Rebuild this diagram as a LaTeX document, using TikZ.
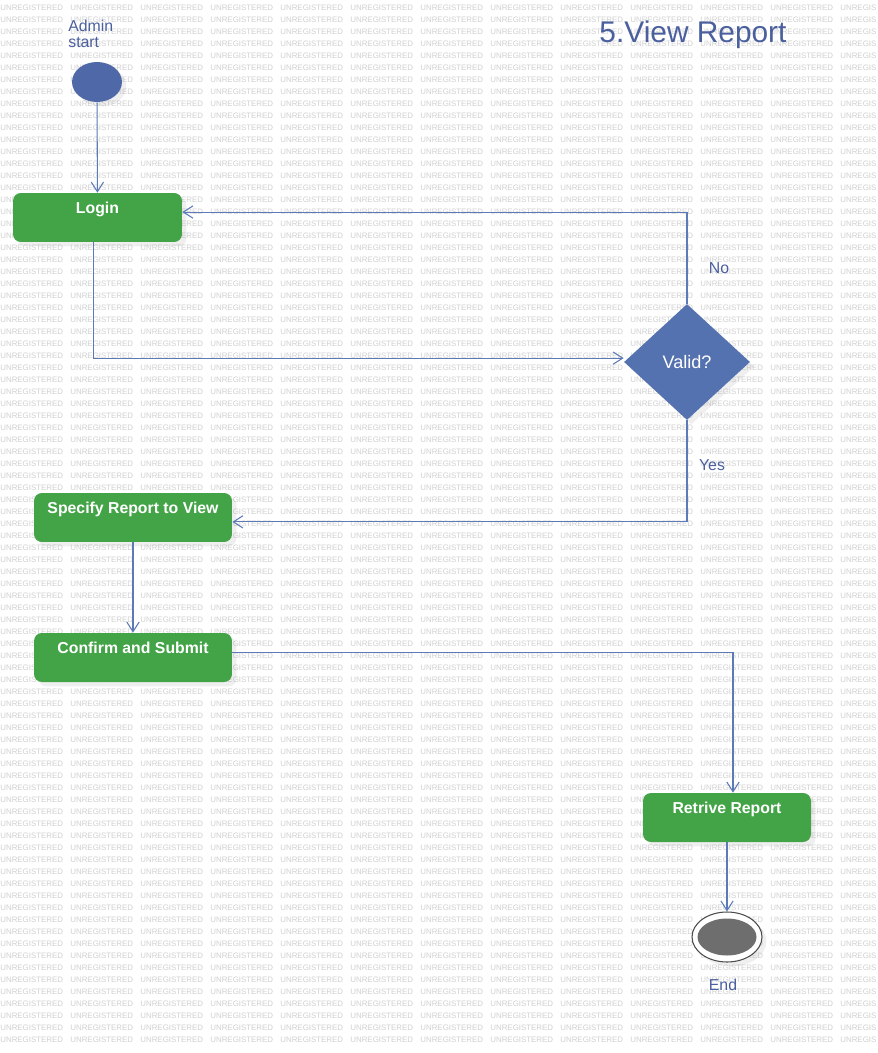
\documentclass[tikz,border=0pt]{standalone}
\usepackage{fontspec}
\setmainfont{Liberation Sans}
\usetikzlibrary{arrows.meta,shapes.geometric,shadows}
\definecolor{actgreen}{RGB}{67,164,71}
\definecolor{startblue}{RGB}{79,104,168}
\definecolor{decblue}{RGB}{85,114,176}
\definecolor{lineblue}{RGB}{92,122,184}
\definecolor{txtblue}{RGB}{74,95,158}
\definecolor{endgrey}{RGB}{110,110,110}
\definecolor{wmgrey}{RGB}{208,208,208}
\begin{document}
\begin{tikzpicture}
            [x=0.02cm,y=-0.02cm,every node/.style={inner sep=0},
             sh/.style={drop shadow={shadow xshift=2.5pt,shadow yshift=-2.5pt,opacity=0.12}},
             wm/.style={anchor=west,text=wmgrey,font=\fontsize{4.5}{5}\selectfont},
             act/.style={rectangle,rounded corners=4.5pt,fill=actgreen,sh,minimum width=3.38cm,minimum height=0.98cm,
                         text=white,font=\bfseries\fontsize{9}{11}\selectfont,text height=0.25cm,text depth=0.40cm},
             decision/.style={diamond,fill=decblue,sh,minimum width=2.52cm,minimum height=2.32cm,text=white,font=\fontsize{10.3}{12}\selectfont},
             startnode/.style={ellipse,fill=startblue,sh,minimum width=1.0cm,minimum height=0.8cm},
             endnode/.style={ellipse,draw=black!70,line width=0.6pt,fill=white,sh,minimum width=1.4cm,minimum height=1.0cm},
             endcore/.style={ellipse,fill=endgrey,minimum width=1.18cm,minimum height=0.74cm},
             lbl/.style={text=txtblue,font=\fontsize{9}{9}\selectfont},
             flow/.style={draw=lineblue,line width=0.6pt,-{Straight Barb[length=5.5pt,width=7pt]}}]

            \useasboundingbox (0,0) rectangle (877,1053);
            \fill[white] (0,0) rectangle (877,1053);
            % watermark, last column cut at the edge
            \foreach \r in {0,...,86} {
              \foreach \c in {0,...,11}
                \node[wm] (wm-\r-\c) at (\c*70,8+\r*12) {UNREGISTERED};
              \node[wm] (wm-\r-12) at (840,8+\r*12) {UNREGIS};
            }

            \node[text=txtblue,font=\fontsize{17}{20}\selectfont] (title) at (693,35) {5.View Report};
            \node[lbl,anchor=north west,align=left] (admin) at (68,20) {Admin\\start};

            \node[startnode] (start) at (97,82) {};
            \node[act] (login) at (97.5,217.5) {Login};
            \node[decision] (valid) at (687,362) {Valid?};
            \node[act,minimum width=3.96cm] (specify) at (133,517.5) {Specify Report to View};
            \node[act,minimum width=3.96cm] (confirm) at (133,657.5) {Confirm and Submit};
            \node[act,minimum width=3.36cm] (retrive) at (727,817.5) {Retrive Report};
            \node[endnode] (finish) at (727,937) {};
            \node[endcore] (finishcore) at (727,937) {};

            \node[lbl] (nolbl) at (719,268) {No};
            \node[lbl] (yeslbl) at (712,465) {Yes};
            \node[lbl] (endlbl) at (723,985) {End};

            \draw[flow] (start) -- (login);
            \draw[flow] ([xshift=-2.5pt]login.south) |- ([yshift=2.2pt]valid.west);
            \draw[flow] (valid.north) |- ([yshift=3.1pt]login.east);
            \draw[flow] (valid.south) |- ([yshift=-2.5pt]specify.east);
            \draw[flow] (specify) -- (confirm);
            \draw[flow] ([yshift=3.1pt]confirm.east) -| ([xshift=3.4pt]retrive.north);
            \draw[flow] (retrive) -- (finish);
          \end{tikzpicture}
\end{document}
